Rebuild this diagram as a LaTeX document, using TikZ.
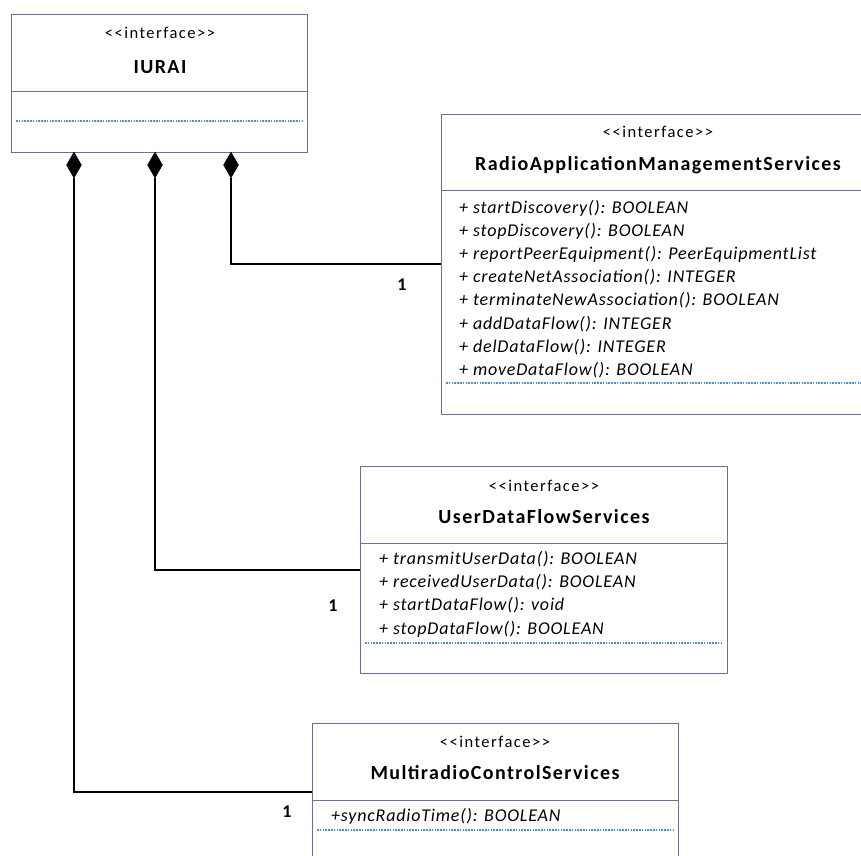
\documentclass[tikz,border=0pt]{standalone}
\usepackage{fontspec}
\setmainfont{Carlito}[Ligatures=TeXOff]
\newfontfamily\namefont{Carlito}[Ligatures=TeXOff, LetterSpace=7]
\newfontfamily\methfont{Carlito}[Ligatures=TeXOff, LetterSpace=4.5]
\newfontfamily\stfont{Carlito}[Ligatures=TeXOff, LetterSpace=9]
\usetikzlibrary{shapes.geometric}
\definecolor{boxc}{HTML}{726C98}
\definecolor{dotc}{HTML}{4A90D9}
\tikzset{
  umlbox/.style={draw=boxc, line width=1pt, anchor=north west, inner sep=0pt},
  sepline/.style={draw=boxc, line width=1pt},
  dotline/.style={draw=dotc, line width=1.1pt, dash pattern=on 1.5pt off 1.3pt},
  stereo/.style={font=\stfont\fontsize{16.5}{18}\selectfont, inner sep=0pt},
  cname/.style={font=\namefont\fontsize{20}{23}\bfseries\selectfont, inner sep=0pt},
  meth/.style={font=\methfont\fontsize{18}{20}\itshape\selectfont, anchor=west, inner sep=0pt},
  compo/.style={diamond, fill=black, draw=black, inner sep=0pt, minimum width=15pt, minimum height=26pt},
  conn/.style={draw=black, line width=1.6pt},
  mult/.style={font=\fontsize{18}{20}\bfseries\selectfont, inner sep=0pt}
}
\begin{document}
\begin{tikzpicture}[x=1pt,y=-1pt]
\useasboundingbox (0,0) rectangle (861,855);
\clip (0,0) rectangle (861,855);
% IURAI
\node[umlbox, minimum width=296pt, minimum height=138pt] (iurai) at (11,14) {};
\draw[sepline] (11,91) -- (307,91);
\draw[dotline] (16,121) -- (302,121);
\node[stereo] (iuraiS) at (160,33) {<<interface>>};
\node[cname] (iuraiN) at (160,67) {IURAI};
% RAMS
\node[umlbox, minimum width=430pt, minimum height=300pt] (rams) at (441,114) {};
\draw[sepline] (441,190) -- (870,190);
\draw[dotline] (446,383) -- (861,383);
\node[stereo] (ramsS) at (658,132) {<<interface>>};
\node[cname] (ramsN) at (658,165) {RadioApplicationManagementServices};
\node[meth] (r1) at (459,208) {+ startDiscovery(): BOOLEAN};
\node[meth] (r2) at (459,231) {+ stopDiscovery(): BOOLEAN};
\node[meth] (r3) at (459,254) {+ reportPeerEquipment(): PeerEquipmentList};
\node[meth] (r4) at (459,277) {+ createNetAssociation(): INTEGER};
\node[meth] (r5) at (459,300) {+ terminateNewAssociation(): BOOLEAN};
\node[meth] (r6) at (459,324) {+ addDataFlow(): INTEGER};
\node[meth] (r7) at (459,347) {+ delDataFlow(): INTEGER};
\node[meth] (r8) at (459,370) {+ moveDataFlow(): BOOLEAN};
% UDFS
\node[umlbox, minimum width=367pt, minimum height=207pt] (udfs) at (360,466) {};
\draw[sepline] (360,543) -- (727,543);
\draw[dotline] (365,643) -- (722,643);
\node[stereo] (udfsS) at (544,486) {<<interface>>};
\node[cname] (udfsN) at (544,517) {UserDataFlowServices};
\node[meth] (u1) at (379,559) {+ transmitUserData(): BOOLEAN};
\node[meth] (u2) at (379,582) {+ receivedUserData(): BOOLEAN};
\node[meth] (u3) at (379,605) {+ startDataFlow(): void};
\node[meth] (u4) at (379,629) {+ stopDataFlow(): BOOLEAN};
% MCS
\node[umlbox, minimum width=366pt, minimum height=160pt] (mcs) at (312,723) {};
\draw[sepline] (312,800) -- (678,800);
\draw[dotline] (317,830) -- (673,830);
\node[stereo] (mcsS) at (495,742) {<<interface>>};
\node[cname] (mcsN) at (495,773) {MultiradioControlServices};
\node[meth] (m1) at (331,816) {+syncRadioTime(): BOOLEAN};
% diamonds
\node[compo] (d1) at (74,165) {};
\node[compo] (d2) at (155,165) {};
\node[compo] (d3) at (231,165) {};
\coordinate (ramsL) at (441,264);
\coordinate (udfsL) at (360,570);
\coordinate (mcsL) at (312,792);
\draw[conn] (d3.south) |- (ramsL);
\draw[conn] (d2.south) |- (udfsL);
\draw[conn] (d1.south) |- (mcsL);
\node[mult] (l1) at (402,285) {1};
\node[mult] (l2) at (333,606) {1};
\node[mult] (l3) at (287,812) {1};
\end{tikzpicture}
\end{document}
